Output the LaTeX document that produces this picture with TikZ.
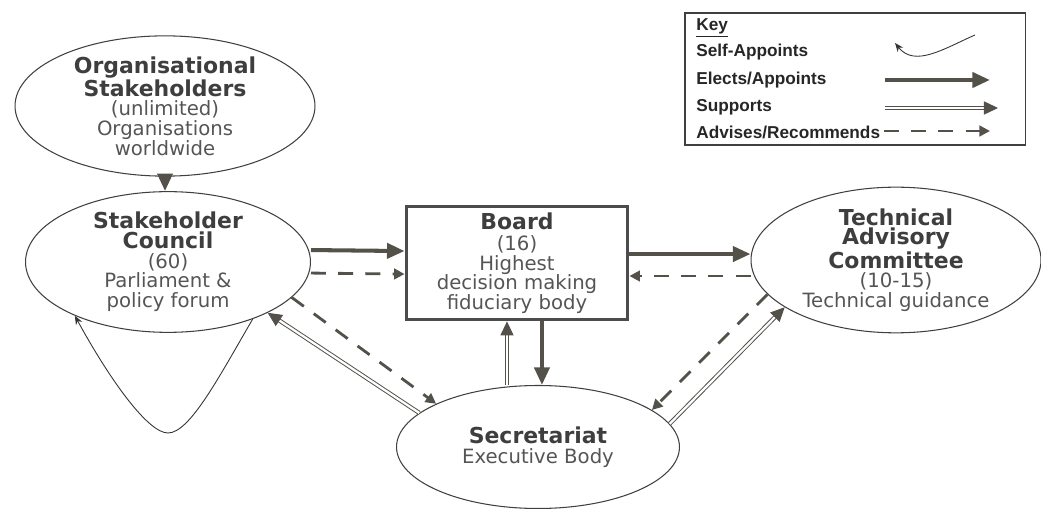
\documentclass[tikz,border=0pt]{standalone}
\usepackage{fontspec}
\setmainfont{DejaVu Sans}
\newfontfamily\keyfont{Liberation Sans}
\usetikzlibrary{arrows.meta,shapes.geometric}

\definecolor{arrowcol}{RGB}{84,81,74}
\definecolor{titlecol}{RGB}{62,62,62}
\definecolor{bodycol}{RGB}{85,85,85}
\newcommand{\ttl}[1]{{\fontsize{12.5}{11.2}\selectfont\bfseries\color{titlecol}#1}}

\begin{document}
\begin{tikzpicture}[
x=0.02cm, y=-0.02cm,
ellip/.style={ellipse,draw=black!75,line width=0.6pt,inner sep=0pt,align=center,text=bodycol,font=\fontsize{11.2}{11.2}\selectfont},
boardbox/.style={rectangle,draw=black!70,line width=2.2pt,inner sep=0pt,align=center,text=bodycol,font=\fontsize{11.2}{11.2}\selectfont},
elects/.style={-{Triangle[length=10pt,width=8.5pt]},line width=2.3pt,draw=arrowcol,color=arrowcol},
supports/.style={-{Triangle[length=8pt,width=7.5pt]},double=white,double distance=1.3pt,line width=0.55pt,draw=arrowcol,color=arrowcol},
advises/.style={-{Triangle[length=6pt,width=6pt]},line width=1.6pt,dash pattern=on 8.5pt off 7pt,draw=arrowcol,color=arrowcol},
selfapp/.style={-{Stealth[length=5pt,width=4pt]},line width=0.5pt,draw=black!80},
keytext/.style={anchor=west,font=\keyfont\fontsize{9.8}{10}\selectfont\bfseries,text=black!85,inner sep=0pt} ]

\useasboundingbox (0,0) rectangle (1041,509);

% bodies
\node[ellip,minimum width=6cm,minimum height=2.46cm] (orgs) at (165,106)
  {\ttl{Organisational}\\ \ttl{Stakeholders}\\ (unlimited)\\ Organisations\\ worldwide};

\node[ellip,minimum width=5.7cm,minimum height=2.4cm] (council) at (168,262)
  {\ttl{Stakeholder}\\ \ttl{Council}\\ (60)\\ Parliament \&\\ policy forum};

\node[boardbox,minimum width=4.42cm,minimum height=2.26cm] (board) at (517,263)
  {\ttl{Board}\\[1pt] (16)\\ Highest\\ decision making\\ fiduciary body};

\node[ellip,minimum width=5.8cm,minimum height=2.8cm] (tac) at (896,260)
  {\ttl{Technical}\\ \ttl{Advisory}\\ \ttl{Committee}\\ (10-15)\\ Technical guidance};

\node[ellip,minimum width=5.66cm,minimum height=2.46cm] (sec) at (538,447)
  {\ttl{Secretariat}\\ Executive Body};

% connectors
\draw[elects] (orgs.south) -- (orgs.south |- council.north);

\draw[elects] ([yshift=6.8pt]council.east) -- ([yshift=6.8pt]board.west);
\draw[advises] ([yshift=-6.3pt]council.east) -- ([yshift=-6.3pt]board.west);

\draw[elects] ([yshift=5.1pt]board.east) coordinate (bt) -- (bt -| tac.west);
\draw[advises] (tac.west |- 0,276) coordinate (ta) -- (ta -| board.east);

\draw[supports] ([xshift=-5.7pt]board.south |- sec.north) -- ([xshift=-5.7pt]board.south);
\draw[elects] ([xshift=14.2pt]board.south) -- ([xshift=14.2pt]board.south |- sec.north);

\draw[supports] (sec.164.5) -- (council.-27.6);
\draw[advises] (council.-16.4) -- (sec.157.3);

\draw[advises] (tac.195.1) -- (sec.18.9);
\draw[supports] (sec.10.9) -- (tac.203.2);

\draw[selfapp] (council.-34.5) .. controls (220,375) and (190,433) .. (168,433)
  .. controls (148,433) and (110,380) .. (council.210.3);

% key
\node[draw=black!75,line width=1.1pt,minimum width=6.82cm,minimum height=2.64cm,inner sep=0pt] (keybox) at (855,79) {};
\node[keytext] (keyhead) at (696,28) {\underline{Key}};
\node[keytext] (keyself) at (696,52) {Self-Appoints};
\node[keytext] (keyelect) at (696,80) {Elects/Appoints};
\node[keytext] (keysupp) at (696,107) {Supports};
\node[keytext] (keyadv) at (696,132) {Advises/Recommends};

\coordinate (ks1) at (975,35);
\coordinate (ks2) at (895,43);
\draw[selfapp] (ks1) .. controls (945,48) and (915,68) .. (ks2);
\coordinate (ke1) at (885,80);
\coordinate (ke2) at (990,80);
\draw[elects] (ke1) -- (ke2);
\coordinate (kp1) at (885,108);
\coordinate (kp2) at (998,108);
\draw[supports] (kp1) -- (kp2);
\coordinate (ka1) at (884,131);
\coordinate (ka2) at (990,131);
\draw[advises] (ka1) -- (ka2);

\end{tikzpicture}
\end{document}
